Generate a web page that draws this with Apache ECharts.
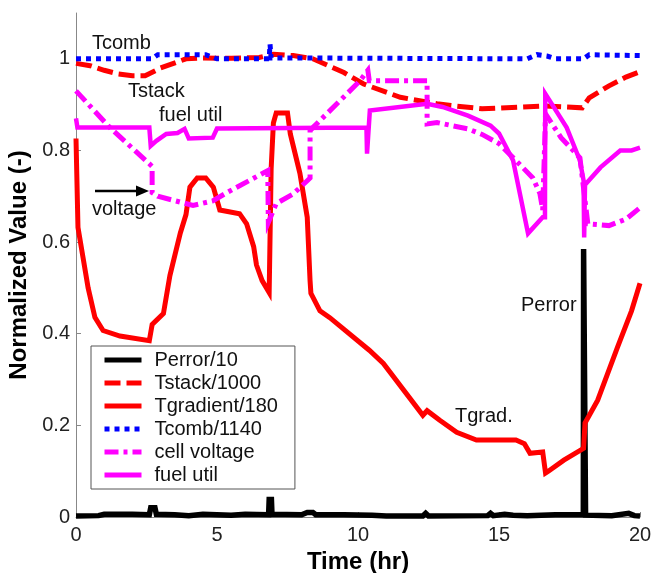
<!DOCTYPE html>
<html>
<head>
<meta charset="utf-8">
<script src="https://cdn.jsdelivr.net/npm/echarts@6/dist/echarts.min.js"></script>
<style>
html,body{margin:0;padding:0;background:#fff;}
#c{width:652px;height:573px;}
</style>
</head>
<body>
<div id="c"></div>
<script>
// ---- Data (time in hr, normalized value) ----
const xTicks = [0, 5, 10, 15, 20];
const yTicks = [0, 0.2, 0.4, 0.6, 0.8, 1];

const perror = [[0,0.002],[0.8,0.003],[1.0,0.006],[2.0,0.006],[2.6,0.005],[2.65,0.02],[2.8,0.02],[2.85,0.006],[3.5,0.005],[4.0,0.003],[4.5,0.006],[5.5,0.004],[6.0,0.006],[6.83,0.005],[6.85,0.038],[6.93,0.038],[6.95,0.006],[8.0,0.005],[8.2,0.01],[8.4,0.01],[8.5,0.005],[9.5,0.005],[10.5,0.004],[11.0,0.002],[12.3,0.002],[12.4,0.008],[12.5,0.002],[14.6,0.003],[14.7,0.008],[14.8,0.003],[15.2,0.006],[15.5,0.004],[16.0,0.003],[17.0,0.005],[17.99,0.005],[18.0,0.585],[18.06,0.585],[18.07,0.004],[19.0,0.003],[19.6,0.008],[19.8,0.003],[20,0.002]];

const tstack = [[0,0.99],[0.5,0.985],[1.0,0.975],[1.5,0.967],[2.0,0.963],[2.45,0.963],[3.0,0.98],[3.9,1.0],[4.5,1.002],[5.5,1.001],[6.5,1.003],[7.0,1.01],[7.7,1.007],[8.4,1.0],[9.5,0.97],[10.2,0.945],[11.5,0.916],[12.8,0.902],[13.3,0.898],[14.4,0.891],[16.6,0.897],[17.95,0.893],[18.2,0.915],[18.9,0.941],[19.5,0.96],[20,0.972]];

const tgradient = [[0,0.826],[0.07,0.632],[0.25,0.566],[0.43,0.5],[0.67,0.436],[0.96,0.407],[1.56,0.395],[2.6,0.385],[2.7,0.42],[3.1,0.444],[3.33,0.527],[3.5,0.57],[3.7,0.62],[3.9,0.66],[4.04,0.72],[4.3,0.74],[4.6,0.74],[4.87,0.72],[5.1,0.67],[5.8,0.662],[6.05,0.64],[6.3,0.59],[6.4,0.55],[6.6,0.516],[6.85,0.49],[6.92,0.76],[7.0,0.86],[7.1,0.882],[7.5,0.882],[7.6,0.836],[7.94,0.75],[8.2,0.654],[8.3,0.516],[8.33,0.488],[8.65,0.45],[9.0,0.435],[10.4,0.364],[10.9,0.335],[12.3,0.222],[12.45,0.232],[12.9,0.211],[13.5,0.185],[14.2,0.168],[15.6,0.168],[15.9,0.16],[16.1,0.139],[16.55,0.142],[16.65,0.096],[16.75,0.1],[17.3,0.124],[18.0,0.15],[18.05,0.205],[18.5,0.255],[19.2,0.37],[19.7,0.45],[20,0.51]];

const tcomb = [[0,1.0],[2.7,1.0],[2.9,1.009],[4.6,1.009],[5.0,1.0],[6.85,1.0],[6.88,1.032],[6.92,1.002],[16.0,1.0],[16.35,1.009],[16.7,1.006],[17.0,1.0],[18.0,1.0],[18.2,1.009],[20,1.007]];

const cellVoltage = [[0,0.93],[1.2,0.85],[2.6,0.771],[2.7,0.765],[2.7,0.708],[2.9,0.70],[4.15,0.68],[4.85,0.69],[5.35,0.708],[6.8,0.756],[6.82,0.643],[7.1,0.684],[7.7,0.705],[8.2,0.734],[8.3,0.74],[8.3,0.843],[8.4,0.85],[10.07,0.952],[10.35,0.975],[10.4,0.952],[12.45,0.952],[12.45,0.858],[12.8,0.861],[13.9,0.847],[14.4,0.835],[15.0,0.815],[15.6,0.778],[16.2,0.74],[16.45,0.706],[16.55,0.67],[16.65,0.88],[17.2,0.828],[17.87,0.784],[18.15,0.64],[18.9,0.636],[19.5,0.65],[20,0.675]];

const fuelUtil = [[0,0.87],[0.05,0.85],[2.6,0.85],[2.65,0.81],[2.85,0.821],[3.2,0.836],[3.6,0.838],[3.85,0.847],[4.0,0.826],[4.85,0.828],[5.0,0.848],[10.3,0.85],[10.32,0.793],[10.38,0.793],[10.42,0.887],[12.45,0.902],[13.0,0.895],[13.9,0.876],[14.7,0.854],[15.0,0.837],[15.5,0.778],[16.03,0.619],[16.55,0.654],[16.63,0.654],[16.64,0.924],[17.4,0.85],[17.87,0.778],[18.0,0.734],[18.02,0.61],[18.05,0.725],[18.6,0.763],[19.3,0.8],[19.7,0.8],[20,0.806]];

const seriesNames = ['Perror/10','Tstack/1000','Tgradient/180','Tcomb/1140','cell voltage','fuel util'];

const FONT = "'Liberation Sans', Arial, sans-serif";
const chart = echarts.init(document.getElementById('c'), null, {renderer:'canvas'});

function mk(name, data, color, type, width) {
  return {
    name, type:'line', data, symbol:'none', showSymbol:false, animation:false,
    lineStyle:{color, width, type, cap:'butt', join:'miter'},
    itemStyle:{color}
  };
}

chart.setOption({
  animation:false,
  backgroundColor:'#fff',
  textStyle:{fontFamily:FONT},
  grid:{left:76, right:12, top:13, bottom:56, containLabel:false, outerBoundsMode:'none'},
  xAxis:{
    type:'value', min:0, max:20, interval:5,
    name:'Time (hr)', nameLocation:'middle', nameGap:30,
    nameTextStyle:{fontFamily:FONT, fontSize:24, fontWeight:'bold', color:'#000'},
    axisLine:{show:true, lineStyle:{color:'#888', width:1}},
    axisTick:{show:true, inside:true, length:5, lineStyle:{color:'#888'}, customValues:xTicks},
    axisLabel:{fontFamily:FONT, fontSize:20, color:'#222', margin:8, customValues:xTicks},
    splitLine:{show:false}
  },
  yAxis:{
    type:'value', min:0, max:1.1,
    name:'Normalized Value (-)', nameLocation:'middle', nameGap:45,
    nameTextStyle:{fontFamily:FONT, fontSize:24, fontWeight:'bold', color:'#000'},
    axisLine:{show:true, lineStyle:{color:'#888', width:1}},
    axisTick:{show:true, inside:true, length:5, lineStyle:{color:'#888'}, customValues:yTicks},
    axisLabel:{fontFamily:FONT, fontSize:20, color:'#222', margin:6, customValues:yTicks,
      formatter:(v)=>String(Math.round(v*10)/10)},
    splitLine:{show:false}
  },
  legend:{
    data:seriesNames, orient:'vertical', left:91, top:346,
    backgroundColor:'#fff', borderColor:'#555', borderWidth:1,
    padding:[4,17,4,11], itemGap:3, itemWidth:37, itemHeight:14,
    itemStyle:{opacity:0},
    lineStyle:{width:5},
    textStyle:{fontFamily:FONT, fontSize:20, color:'#111', lineHeight:20, padding:[0,0,0,8]},
    selectedMode:false
  },
  series:[
    mk(seriesNames[0], perror, '#000000', 'solid', 5.5),
    mk(seriesNames[1], tstack, '#ff0000', [16,6], 5),
    mk(seriesNames[2], tgradient, '#ff0000', 'solid', 5),
    mk(seriesNames[3], tcomb, '#0000ff', [5,5], 5),
    mk(seriesNames[4], cellVoltage, '#ff00ff', [14,5,4,5], 5),
    mk(seriesNames[5], fuelUtil, '#ff00ff', 'solid', 4.5)
  ],
  graphic:[
    {type:'text', left:92, top:33, style:{text:'Tcomb', font:"20px "+FONT, fill:'#111'}},
    {type:'text', left:128, top:81, style:{text:'Tstack', font:"20px "+FONT, fill:'#111'}},
    {type:'text', left:159, top:105, style:{text:'fuel util', font:"20px "+FONT, fill:'#111'}},
    {type:'text', left:92, top:199, style:{text:'voltage', font:"20px "+FONT, fill:'#111'}},
    {type:'text', left:521, top:295, style:{text:'Perror', font:"20px "+FONT, fill:'#111'}},
    {type:'text', left:455, top:406, style:{text:'Tgrad.', font:"20px "+FONT, fill:'#111'}},
    {type:'line', shape:{x1:95, y1:191, x2:140, y2:191}, style:{stroke:'#000', lineWidth:2.5}},
    {type:'polygon', shape:{points:[[136,185.5],[149,191],[136,196.5]]}, style:{fill:'#000'}}
  ]
});
</script>
</body>
</html>
